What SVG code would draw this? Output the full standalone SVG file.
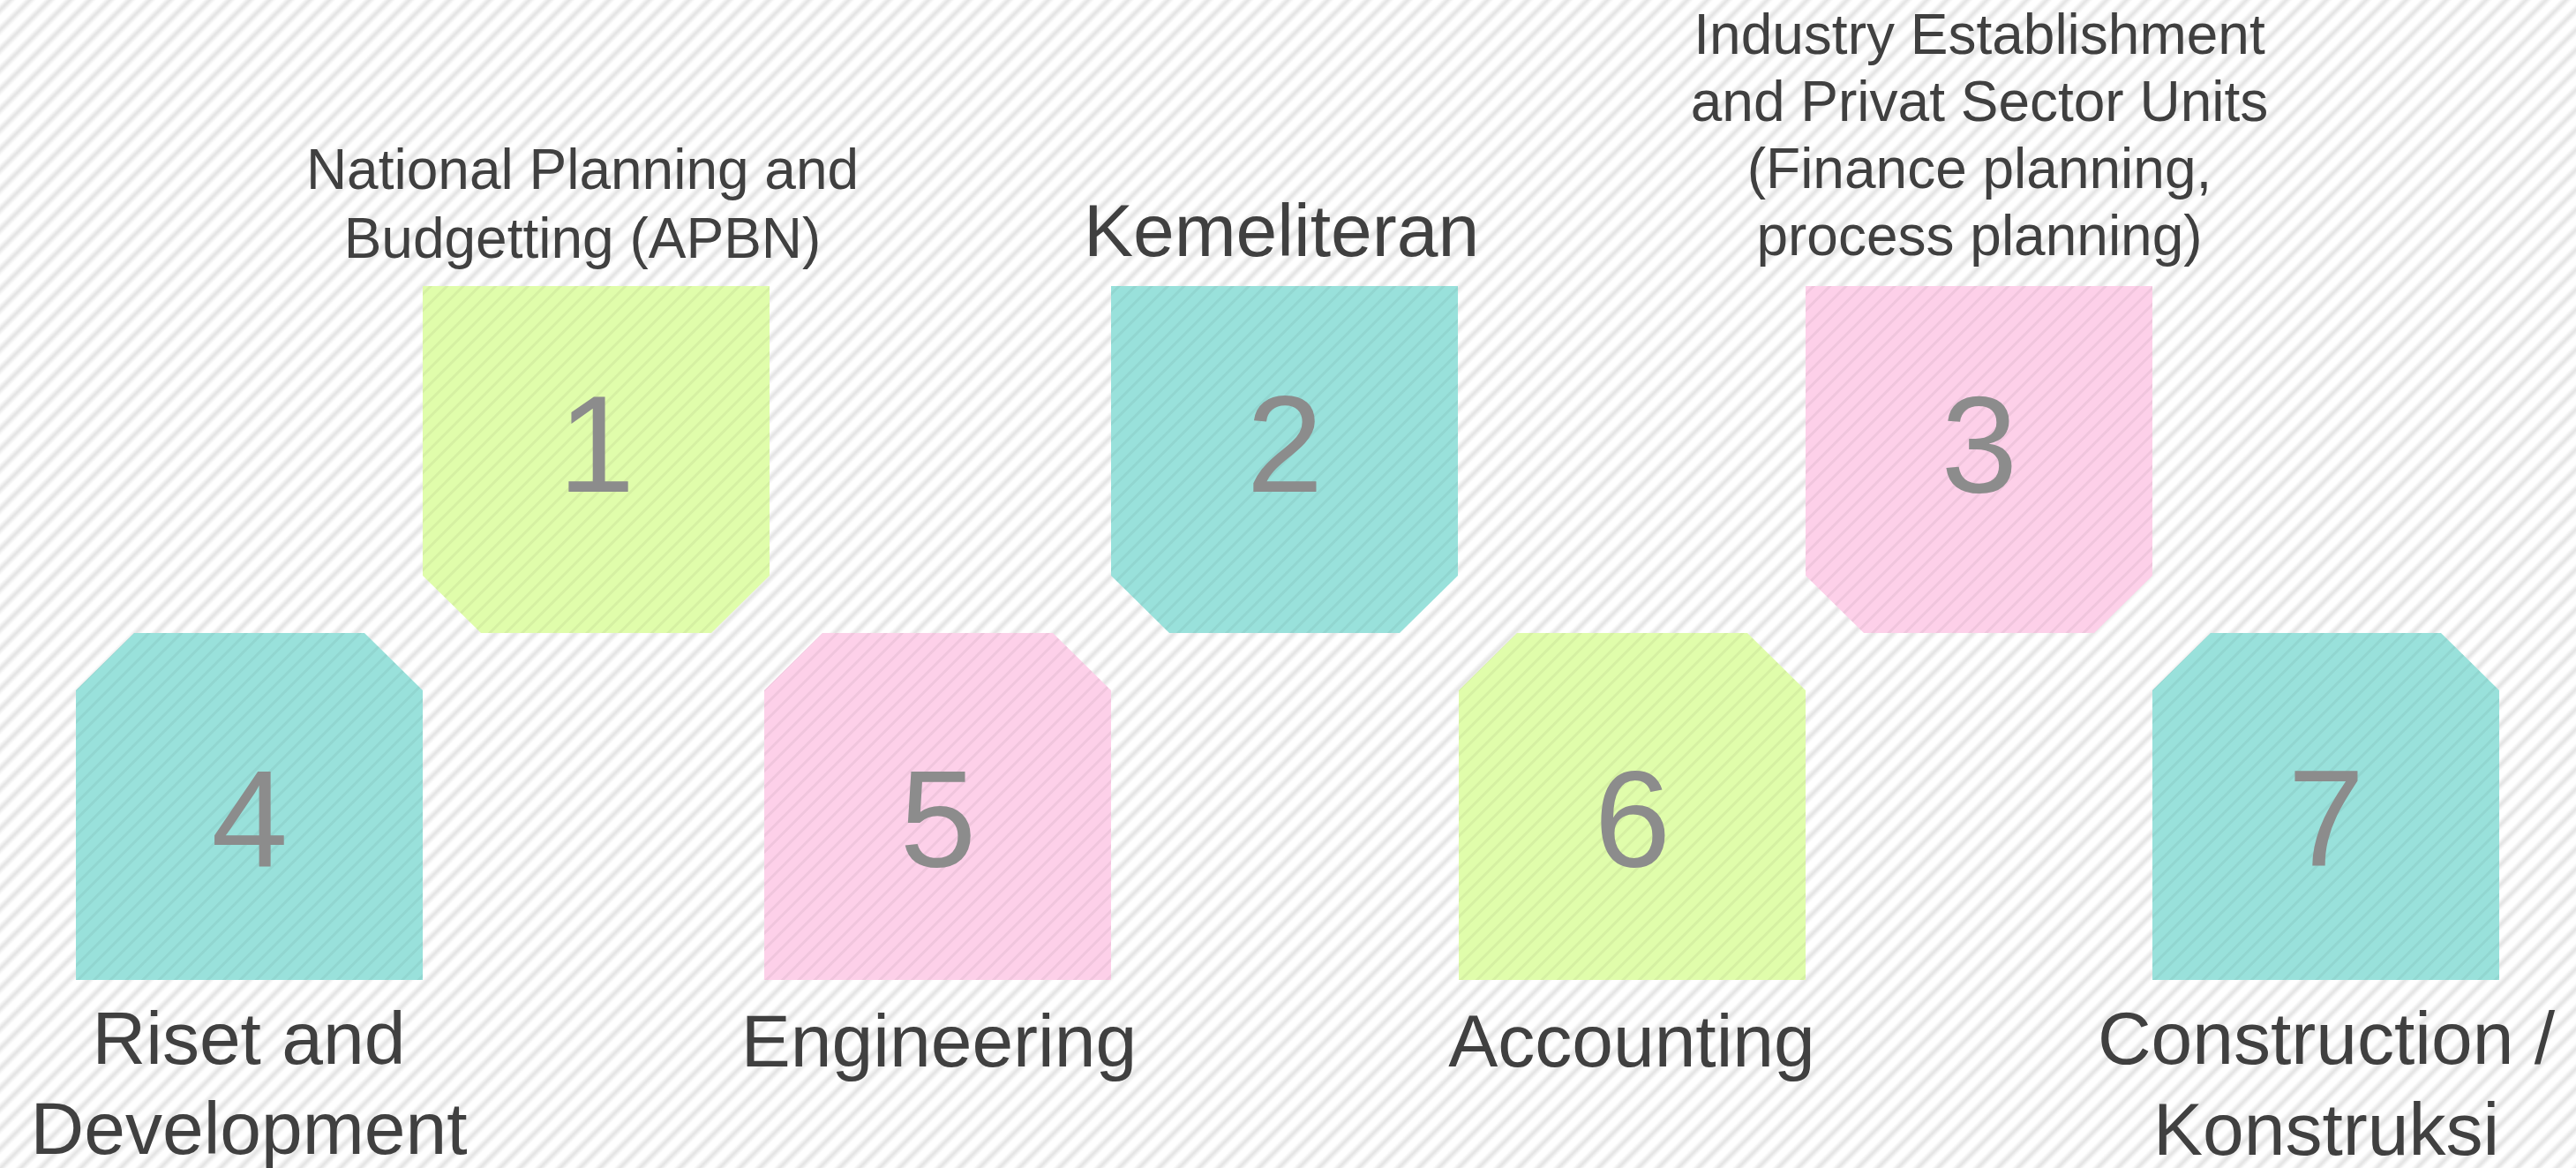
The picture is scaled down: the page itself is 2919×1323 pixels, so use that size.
<svg xmlns="http://www.w3.org/2000/svg" xmlns:xlink="http://www.w3.org/1999/xlink" width="2919" height="1323" viewBox="0 0 2919 1323">
  <defs>
    <!-- soft diagonal stripes of the backdrop -->
    <linearGradient id="stripeGrad" x1="0" y1="0" x2="1" y2="0">
      <stop offset="0" stop-color="#ffffff"/>
      <stop offset="0.5" stop-color="#e2e2e2"/>
      <stop offset="1" stop-color="#ffffff"/>
    </linearGradient>
    <pattern id="bgStripes" patternUnits="userSpaceOnUse" width="16" height="16" patternTransform="rotate(45)">
      <rect x="0" y="0" width="16" height="16" fill="#ffffff"/>
      <rect x="3" y="0" width="10" height="16" fill="url(#stripeGrad)"/>
    </pattern>
    <!-- fine darker lines across the tiles -->
    <pattern id="tileStripes" patternUnits="userSpaceOnUse" width="13" height="13" patternTransform="rotate(45)">
      <rect x="5" y="0" width="3" height="13" fill="#000000" fill-opacity="0.05"/>
    </pattern>
    <!-- tile outlines: cut corners at the bottom (upper row) or top (lower row) -->
    <polygon id="tileDown" points="0,0 393,0 393,328 327,393 66,393 0,328"/>
    <polygon id="tileUp" points="66,0 327,0 393,65 393,393 0,393 0,65"/>
  </defs>
  <style>
    .green { fill: #e0fdab; }
    .teal { fill: #99e1db; }
    .pink { fill: #fdd0e9; }
    .lines { fill: url(#tileStripes); }
    .num { font-family: "Liberation Sans", Arial, sans-serif; font-size: 156px; fill: #8c8c8c; text-anchor: middle; }
    .lbl { font-family: "Liberation Sans", Arial, sans-serif; fill: #404040; text-anchor: middle; }
    .s64 { font-size: 64px; }
    .s84 { font-size: 84px; }
  </style>

  <rect x="0" y="0" width="2919" height="1323" fill="url(#bgStripes)"/>

  <g id="connectors"/>

  <g id="node-1" transform="translate(479,324)">
    <use xlink:href="#tileDown" class="green"/>
    <use xlink:href="#tileDown" class="lines"/>
    <text class="num" x="197" y="233">1</text>
    <text class="lbl s64" x="181" y="-110">National Planning and</text>
    <text class="lbl s64" x="181" y="-32">Budgetting (APBN)</text>
  </g>

  <g id="node-2" transform="translate(1259,324)">
    <use xlink:href="#tileDown" class="teal"/>
    <use xlink:href="#tileDown" class="lines"/>
    <text class="num" x="197" y="233">2</text>
    <text class="lbl s84" x="193" y="-34">Kemeliteran</text>
  </g>

  <g id="node-3" transform="translate(2046,324)">
    <use xlink:href="#tileDown" class="pink"/>
    <use xlink:href="#tileDown" class="lines"/>
    <text class="num" x="197" y="233">3</text>
    <text class="lbl s64" x="197" y="-263">Industry Establishment</text>
    <text class="lbl s64" x="197" y="-187">and Privat Sector Units</text>
    <text class="lbl s64" x="197" y="-111">(Finance planning,</text>
    <text class="lbl s64" x="197" y="-35">process planning)</text>
  </g>

  <g id="node-4" transform="translate(86,717)">
    <use xlink:href="#tileUp" class="teal"/>
    <use xlink:href="#tileUp" class="lines"/>
    <text class="num" x="197" y="264">4</text>
    <text class="lbl s84" x="196" y="488">Riset and</text>
    <text class="lbl s84" x="196" y="590">Development</text>
  </g>

  <g id="node-5" transform="translate(866,717)">
    <use xlink:href="#tileUp" class="pink"/>
    <use xlink:href="#tileUp" class="lines"/>
    <text class="num" x="197" y="264">5</text>
    <text class="lbl s84" x="198" y="491">Engineering</text>
  </g>

  <g id="node-6" transform="translate(1653,717)">
    <use xlink:href="#tileUp" class="green"/>
    <use xlink:href="#tileUp" class="lines"/>
    <text class="num" x="197" y="264">6</text>
    <text class="lbl s84" x="196" y="491">Accounting</text>
  </g>

  <g id="node-7" transform="translate(2439,717)">
    <use xlink:href="#tileUp" class="teal"/>
    <use xlink:href="#tileUp" class="lines"/>
    <text class="num" x="197" y="264">7</text>
    <text class="lbl s84" x="197" y="488">Construction /</text>
    <text class="lbl s84" x="197" y="591">Konstruksi</text>
  </g>
</svg>
